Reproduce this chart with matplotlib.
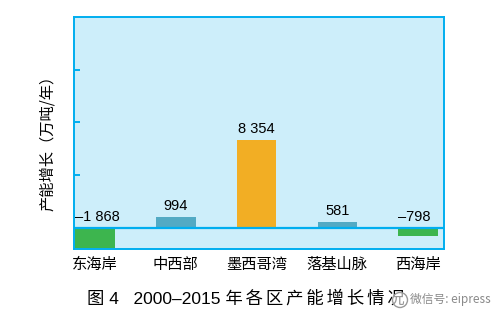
import matplotlib.pyplot as plt
from matplotlib.patches import Ellipse

plt.rcParams['font.family'] = ['Liberation Sans', 'Noto Sans CJK SC', 'DejaVu Sans']
cjk = ['Noto Sans CJK SC', 'DejaVu Sans']

# capacity growth by region, 2000-2015 (10k t/yr)
regions = ['东海岸', '中西部', '墨西哥湾', '落基山脉', '西海岸']
growth = [-1868, 994, 8354, 581, -798]
labels = ['\u20131 868', '994', '8 354', '581', '\u2013798']
colors = ['#3db54e', '#52aac4', '#f2ae24', '#52aac4', '#3db54e']

edge = '#00aeef'

fig = plt.figure(figsize=(5.01, 3.24), dpi=100)
ax = fig.add_axes([74 / 501, 1 - 249 / 324, 370 / 501, 232 / 324])
ax.set_facecolor('#cdeefa')

x = range(len(regions))
ax.bar(x, growth, width=0.49, color=colors, zorder=2)
ax.axhline(0, color=edge, lw=1.6, zorder=3)

for i, (v, t) in enumerate(zip(growth, labels)):
    y = v + 380 if v > 0 else 380
    if i == 0:
        ax.text(i - 0.25, y, t, ha='left', va='bottom', fontsize=10.5)
    else:
        ax.text(i - (0.05 if v < 0 else 0), y, t, ha='center', va='bottom',
                fontsize=10.5)

ax.set_xlim(-0.26, 4.32)
ax.set_ylim(-2000, 20000)
ax.set_yticks([5000, 10000, 15000])
ax.set_yticklabels([])
ax.tick_params(axis='y', direction='in', length=4, width=1.4, color=edge)
ax.set_xticks(list(x))
ax.set_xticklabels(regions, fontsize=11, family=cjk)
ax.tick_params(axis='x', length=0, pad=5)
for s in ax.spines.values():
    s.set_color(edge)
    s.set_linewidth(1.4)

fig.text(47.5 / 501, 1 - 139 / 324, '产能增长（万吨/年）', rotation=90,
         ha='center', va='center', fontsize=11, family=cjk)

# caption, with a little extra spacing between the CJK characters
caption = '\u2006'.join('年各区产能增长情况')
fig.text(87 / 501, 1 - 298 / 324, '图 4   2000\u20132015 ' + caption,
         ha='left', va='center', fontsize=12.5, fontweight='medium')

# watermark
fig.add_artist(Ellipse((400 / 501, 1 - 300 / 324), 15 / 501, 15 / 324,
                       transform=fig.transFigure, fc=(1, 1, 1, 0.6),
                       ec='#9a9a9a', lw=1.0, zorder=5))
fig.text(410 / 501, 1 - 299 / 324, '微信号: eipress', ha='left', va='center',
         fontsize=8.5, color='#8a8a8a', family=cjk, zorder=6)

fig.savefig('out.png', dpi=100)
